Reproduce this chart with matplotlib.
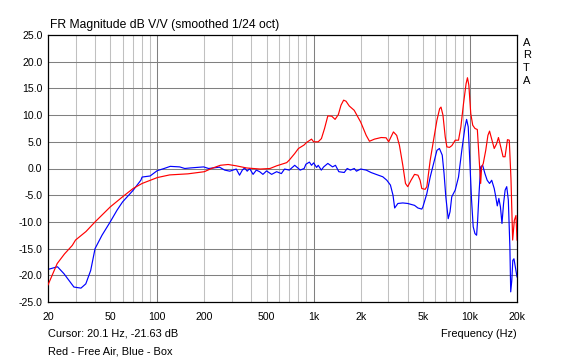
import matplotlib
matplotlib.use("Agg")
import matplotlib.pyplot as plt
import numpy as np

plt.rcParams['font.family'] = ['Liberation Sans', 'DejaVu Sans']

red_f = [20, 22.9, 25.5, 28.6, 30, 35, 40, 50, 60, 70, 80, 100, 120, 157, 200, 222, 253, 284, 320, 373, 455, 526, 580, 673, 700, 757, 800, 869, 901, 970, 1000, 1070, 1122, 1175, 1233, 1306, 1372, 1440, 1497, 1556, 1612, 1691, 1818, 2000, 2170, 2277, 2450, 2705, 2910, 3020, 3240, 3400, 3540, 3720, 3870, 4000, 4200, 4420, 4650, 4800, 4920, 5170, 5300, 5570, 5850, 6150, 6400, 6530, 6720, 6950, 7120, 7400, 7670, 8050, 8450, 8750, 9100, 9450, 9640, 9840, 10120, 10420, 10770, 11150, 11430, 11710, 11880, 12160, 12620, 13030, 13350, 13660, 14300, 14790, 15220, 15740, 16290, 16770, 17380, 17850, 18300, 18760, 19230, 19700, 20000]
red_db = [-21.8, -17.8, -16.0, -14.4, -13.4, -11.8, -10.0, -7.2, -5.3, -3.75, -2.8, -1.7, -1.2, -1.0, -0.6, 0.0, 0.6, 0.75, 0.5, 0.1, -0.1, 0.0, 0.5, 1.1, 1.6, 2.8, 3.75, 4.4, 4.87, 5.5, 5.0, 5.0, 5.6, 7.5, 9.85, 9.8, 9.2, 10.1, 11.85, 12.8, 12.6, 11.7, 10.9, 8.7, 6.2, 5.1, 5.5, 5.8, 5.75, 5.0, 6.85, 6.2, 4.35, 0.6, -2.8, -3.4, -2.2, -1.1, -1.25, -2.2, -3.75, -3.9, -3.4, 1.55, 5.3, 9.05, 11.2, 11.5, 10.0, 5.9, 4.05, 3.95, 4.3, 5.3, 5.3, 7.8, 12.2, 15.9, 17.0, 15.6, 10.3, 8.1, 7.5, 7.3, 2.2, -2.8, 0.3, 0.9, 3.4, 6.2, 7.0, 5.9, 3.75, 4.6, 5.8, 4.05, 2.2, 2.2, 5.4, 5.3, -1.9, -13.4, -9.7, -8.8, -13.4]

blue_f = [20, 23, 25.3, 29.3, 32.5, 34.9, 37.5, 40, 44.3, 50, 55.3, 60, 70, 78.5, 80, 90, 100, 110.6, 121, 139, 150, 162, 198, 213, 250, 270, 291, 320, 336, 350, 362, 376, 390, 410, 430, 452, 474, 500, 539, 580, 622, 652, 699, 757, 800, 820, 870, 893, 940, 970, 1000, 1045, 1070, 1120, 1160, 1233, 1322, 1380, 1450, 1570, 1640, 1720, 1820, 1880, 2000, 2170, 2330, 2510, 2770, 2940, 3100, 3220, 3300, 3460, 3720, 4000, 4420, 4650, 4920, 5000, 5300, 5570, 5850, 6150, 6380, 6650, 6830, 7010, 7260, 7460, 7650, 8050, 8450, 8870, 9300, 9520, 9750, 10000, 10240, 10490, 10770, 11030, 11200, 11430, 11710, 12060, 12470, 12890, 13350, 13780, 14300, 14630, 14960, 15310, 15670, 16030, 16410, 16790, 17190, 17600, 18010, 18230, 18520, 18800, 19120, 20000]
blue_db = [-18.9, -18.4, -19.7, -22.2, -22.4, -21.6, -19.1, -15.0, -12.5, -10.0, -7.8, -6.25, -4.1, -2.2, -1.6, -1.4, -0.4, 0.0, 0.4, 0.3, 0.0, 0.1, 0.3, 0.0, 0.25, -0.3, -0.5, -0.1, -1.25, -0.3, 0.1, -0.5, 0.0, -1.1, -0.3, -0.6, -1.1, -0.45, -1.1, -0.6, -0.95, -0.1, -0.3, 0.6, 0.0, -0.3, 0.0, 0.8, 1.2, 0.6, 1.05, 0.2, 0.6, -0.3, 0.3, 0.95, 0.3, 0.6, -0.6, -0.75, 0.0, -0.3, 0.0, -0.5, -0.1, -0.3, -0.75, -1.1, -1.55, -2.2, -3.1, -5.0, -7.4, -6.55, -6.45, -6.55, -6.9, -7.4, -7.6, -7.2, -4.7, -1.6, 0.9, 3.4, 3.75, 2.5, -0.95, -5.3, -9.4, -8.1, -5.3, -4.05, -1.6, 3.4, 7.8, 9.2, 7.8, 0.9, -5.9, -10.9, -12.2, -12.5, -9.7, -4.7, 0.3, 0.6, -0.95, -2.2, -2.8, -2.2, -3.75, -5.3, -7.0, -5.6, -7.2, -10.3, -6.55, -4.05, -3.4, -5.9, -14.7, -23.1, -21.0, -17.2, -16.9, -20.3]

x_ticks = [20, 50, 100, 200, 500, 1000, 2000, 5000, 10000, 20000]
x_labels = ['20', '50', '100', '200', '500', '1k', '2k', '5k', '10k', '20k']
y_ticks = [25, 20, 15, 10, 5, 0, -5, -10, -15, -20, -25]

W, H = 566, 362
fig = plt.figure(figsize=(W/100, H/100), dpi=100)
fig.patch.set_facecolor('white')
L, R, T, B = 48, 517, 35, 302
ax = fig.add_axes([L/W, 1 - B/H, (R-L)/W, (B-T)/H])
ax.set_xscale('log')
ax.set_xlim(20, 20000)
ax.set_ylim(-25, 25)

# grid
for d in [10, 100, 1000, 10000]:
    for m in range(1, 10):
        f = d*m
        if f <= 20 or f >= 20000:
            continue
        col = '#808080' if m == 1 else '#c0c0c0'
        ax.axvline(f, color=col, lw=0.75, zorder=1)
for y in y_ticks[1:-1]:
    ax.axhline(y, color='#808080', lw=0.75, zorder=1)

ax.plot(red_f, red_db, color='#ff0000', lw=0.85, zorder=3)
ax.plot(blue_f, blue_db, color='#0000ff', lw=0.85, zorder=2)

for s in ax.spines.values():
    s.set_color('black')
    s.set_linewidth(0.9)

ax.set_xticks(x_ticks)
ax.set_xticklabels(x_labels)
ax.xaxis.set_minor_locator(matplotlib.ticker.NullLocator())
ax.set_yticks(y_ticks)
ax.set_yticklabels([f'{v:.1f}' for v in y_ticks])
ax.tick_params(length=0, labelsize=7.6, colors='black', pad=4)
ax.tick_params(axis='x', pad=7)

fig.text(50/W, 1 - 25/H, 'FR Magnitude dB V/V (smoothed 1/24 oct)', fontsize=8.7, va='center', ha='left')
for i, ch in enumerate('ARTA'):
    fig.text(523/W, 1 - (43 + i*12.5)/H, ch, fontsize=8, va='center', ha='left')
fig.text(48/W, 1 - 334/H, 'Cursor: 20.1 Hz, -21.63 dB', fontsize=7.9, va='center', ha='left')
fig.text(517/W, 1 - 334/H, 'Frequency (Hz)', fontsize=7.9, va='center', ha='right')
fig.text(48/W, 1 - 352/H, 'Red - Free Air, Blue - Box', fontsize=7.9, va='center', ha='left')

fig.savefig('out.png', dpi=100)
